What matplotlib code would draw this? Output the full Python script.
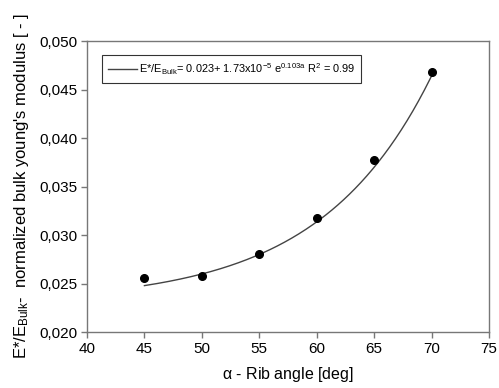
import matplotlib.pyplot as plt
import numpy as np
from matplotlib.ticker import FuncFormatter

plt.rcParams['font.family'] = ['Liberation Sans', 'DejaVu Sans']
plt.rcParams['mathtext.fontset'] = 'custom'
plt.rcParams['mathtext.rm'] = 'Liberation Sans'
plt.rcParams['mathtext.it'] = 'Liberation Sans'

# measured points
rib_angle = [45, 50, 55, 60, 65, 70]
modulus = [0.0256, 0.0258, 0.0280, 0.0318, 0.0377, 0.0468]

# exponential fit: E*/E_bulk = a + b * exp(c * alpha)
fit_a = 0.023
fit_b = 1.73e-5
fit_c = 0.103

x_ticks = [40, 45, 50, 55, 60, 65, 70, 75]
y_ticks = [0.020, 0.025, 0.030, 0.035, 0.040, 0.045, 0.050]

fig = plt.figure(figsize=(4.99, 3.88), dpi=100)
ax = fig.add_axes([87 / 499, 1 - 332 / 388, (489 - 87) / 499, (332 - 41) / 388])

alpha = np.linspace(45, 70, 200)
fit = fit_a + fit_b * np.exp(fit_c * alpha)
ax.plot(alpha, fit, color='#444444', lw=1.0,
        label=r'E*/E$_{\mathrm{Bulk}}$= 0.023+ 1.73x10$^{-5}$ e$^{0.103a}$ R$^{2}$ = 0.99')
ax.plot(rib_angle, modulus, 'o', color='black', ms=5.5)

ax.set_xlim(40, 75)
ax.set_ylim(0.020, 0.050)
ax.set_xticks(x_ticks)
ax.set_yticks(y_ticks)
ax.yaxis.set_major_formatter(FuncFormatter(lambda v, p: f'{v:.3f}'.replace('.', ',')))

for s in ax.spines.values():
    s.set_color('#777777')
    s.set_linewidth(1.0)
ax.tick_params(direction='out', length=4, width=1, color='#777777', labelsize=11, pad=3)

ax.set_xlabel(r'$\alpha$ - Rib angle [deg]', fontsize=11.5, labelpad=7)
ax.set_ylabel("E*/E$_{\\mathrm{Bulk}}$-  normalized bulk young's modulus [ - ]", fontsize=12, labelpad=6)

leg = ax.legend(loc='upper left', bbox_to_anchor=(15 / 402, (332 - 55) / 291), fontsize=7.9,
                frameon=True, fancybox=False, handlelength=2.6, handletextpad=0.2,
                borderpad=0.55, borderaxespad=0)
leg.get_frame().set_edgecolor('black')
leg.get_frame().set_linewidth(0.8)

fig.savefig('out.png', dpi=100)
